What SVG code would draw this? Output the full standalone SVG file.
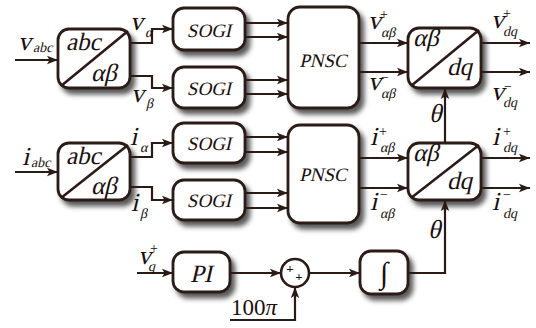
<svg xmlns="http://www.w3.org/2000/svg" width="536" height="328" viewBox="0 0 536 328">
<defs>
<marker id="ar" markerUnits="userSpaceOnUse" markerWidth="12" markerHeight="10" refX="11" refY="5" orient="auto">
<path d="M0,0.8 L11,5 L0,9.2 L2.5,5 Z" fill="#2a1b17"/>
</marker>
<filter id="sh" x="-20%" y="-20%" width="150%" height="150%">
<feDropShadow dx="4" dy="5" stdDeviation="2.8" flood-color="#000" flood-opacity="0.65"/>
</filter>
</defs>
<style>
.blk{fill:#fff;stroke:#2a1b17;stroke-width:2.8;filter:url(#sh)}
.dg{stroke:#2a1b17;stroke-width:2.6;fill:none}
.cn{stroke:#2a1b17;stroke-width:2.2;fill:none;marker-end:url(#ar)}
text{font-family:"Liberation Serif","Times New Roman",serif;fill:#1a1010;font-style:normal}
.bt{font-size:25px}
.sg{font-size:19px;text-anchor:middle}
.v{font-size:26px}
.s{font-size:14px}
.sp{font-size:14px}
</style>
<g id="abc1">
<rect class="blk" x="58" y="29" width="72" height="59" rx="11"/>
<line class="dg" x1="61" y1="86" x2="128" y2="31"/>
<text class="bt" transform="translate(66,50) skewX(-13)">abc</text>
<text class="bt" transform="translate(91,81) skewX(-13)">αβ</text>
</g>
<g id="abc2">
<rect class="blk" x="58" y="143" width="72" height="57" rx="11"/>
<line class="dg" x1="61" y1="198" x2="128" y2="145"/>
<text class="bt" transform="translate(66,164) skewX(-13)">abc</text>
<text class="bt" transform="translate(91,194) skewX(-13)">αβ</text>
</g>
<g id="sogi1"><rect class="blk" x="173" y="8" width="72" height="42" rx="11"/><text class="sg" transform="translate(209,37) skewX(-13)">SOGI</text></g>
<g id="sogi2"><rect class="blk" x="173" y="67" width="72" height="41" rx="11"/><text class="sg" transform="translate(209,95) skewX(-13)">SOGI</text></g>
<g id="sogi3"><rect class="blk" x="173" y="123" width="72" height="40" rx="11"/><text class="sg" transform="translate(209,150) skewX(-13)">SOGI</text></g>
<g id="sogi4"><rect class="blk" x="173" y="180" width="72" height="40" rx="11"/><text class="sg" transform="translate(209,207) skewX(-13)">SOGI</text></g>
<g id="pnsc1"><rect class="blk" x="288" y="7" width="71" height="101" rx="12"/><text class="sg" transform="translate(323,67) skewX(-13)">PNSC</text></g>
<g id="pnsc2"><rect class="blk" x="288" y="125" width="71" height="98" rx="12"/><text class="sg" transform="translate(323,181) skewX(-13)">PNSC</text></g>
<g id="dq1">
<rect class="blk" x="408" y="28" width="73" height="60" rx="11"/>
<line class="dg" x1="411" y1="86" x2="479" y2="30"/>
<text class="bt" transform="translate(413,46) skewX(-13)">αβ</text>
<text class="bt" transform="translate(447,75) skewX(-13)">dq</text>
</g>
<g id="dq2">
<rect class="blk" x="408" y="143" width="73" height="57" rx="11"/>
<line class="dg" x1="411" y1="198" x2="479" y2="145"/>
<text class="bt" transform="translate(413,161) skewX(-13)">αβ</text>
<text class="bt" transform="translate(447,189) skewX(-13)">dq</text>
</g>
<g id="pi"><rect class="blk" x="173" y="252" width="57" height="40" rx="11"/><text class="bt" text-anchor="middle" transform="translate(201,282) skewX(-13)">PI</text></g>
<g id="int"><rect class="blk" x="360" y="251" width="48" height="43" rx="11"/><text x="384" y="283" text-anchor="middle" style="font-size:30px">∫</text></g>
<g id="sum">
<circle cx="295" cy="273" r="14" fill="#fff" stroke="#2a1b17" stroke-width="2.6"/>
<text x="290" y="273" text-anchor="middle" style="font-size:13px;font-weight:bold">+</text>
<text x="299" y="281" text-anchor="middle" style="font-size:13px;font-weight:bold">+</text>
</g>
<g id="connectors">
<path class="cn" d="M15,60 H58"/>
<path class="cn" d="M130,43 H152 V29 H173"/>
<path class="cn" d="M130,76 H152 V88 H173"/>
<path class="cn" d="M245,23 H288"/>
<path class="cn" d="M245,37 H288"/>
<path class="cn" d="M245,80 H288"/>
<path class="cn" d="M245,94 H288"/>
<path class="cn" d="M359,43 H408"/>
<path class="cn" d="M359,72 H408"/>
<path class="cn" d="M481,43 H530"/>
<path class="cn" d="M481,72 H530"/>
<path class="cn" d="M15,172 H58"/>
<path class="cn" d="M130,157 H152 V143 H173"/>
<path class="cn" d="M130,187 H152 V200 H173"/>
<path class="cn" d="M245,137 H288"/>
<path class="cn" d="M245,152 H288"/>
<path class="cn" d="M245,193 H288"/>
<path class="cn" d="M245,208 H288"/>
<path class="cn" d="M359,158 H408"/>
<path class="cn" d="M359,188 H408"/>
<path class="cn" d="M481,158 H530"/>
<path class="cn" d="M481,188 H530"/>
<path class="cn" d="M445,143 V88"/>
<path class="cn" d="M408,273 H445 V200"/>
<path class="cn" d="M137,273 H173"/>
<path class="cn" d="M230,273 H281"/>
<path class="cn" d="M309,273 H360"/>
<path class="cn" d="M230,320 H295 V287"/>
</g>
<g id="labels">
<text class="v" transform="translate(18,50) skewX(-13)">v</text><text class="s" transform="translate(33,52) skewX(-13)">abc</text>
<text class="v" transform="translate(130,30) skewX(-13)">v</text><text class="s" transform="translate(145,37) skewX(-13)">α</text>
<text class="v" transform="translate(131,102) skewX(-13)">v</text><text class="s" transform="translate(146,108) skewX(-13)">β</text>
<text class="v" transform="translate(368,29) skewX(-13)">v</text><text class="sp" x="380" y="19">+</text><text class="s" transform="translate(381,37) skewX(-13)">αβ</text>
<text class="v" transform="translate(368,90) skewX(-13)">v</text><text class="sp" x="381" y="82">−</text><text class="s" transform="translate(381,98) skewX(-13)">αβ</text>
<text class="v" transform="translate(491,28) skewX(-13)">v</text><text class="sp" x="503" y="18">+</text><text class="s" transform="translate(503,36) skewX(-13)">dq</text>
<text class="v" transform="translate(491,100) skewX(-13)">v</text><text class="sp" x="504" y="91">−</text><text class="s" transform="translate(503,107) skewX(-13)">dq</text>
<text class="v" transform="translate(22,165) skewX(-13)">i</text><text class="s" transform="translate(31,167) skewX(-13)">abc</text>
<text class="v" transform="translate(130,145) skewX(-13)">i</text><text class="s" transform="translate(140,152) skewX(-13)">α</text>
<text class="v" transform="translate(131,211) skewX(-13)">i</text><text class="s" transform="translate(140,218) skewX(-13)">β</text>
<text class="v" transform="translate(370,145) skewX(-13)">i</text><text class="sp" x="379" y="136">+</text><text class="s" transform="translate(380,152) skewX(-13)">αβ</text>
<text class="v" transform="translate(370,210) skewX(-13)">i</text><text class="sp" x="380" y="199">−</text><text class="s" transform="translate(380,218) skewX(-13)">αβ</text>
<text class="v" transform="translate(492,145) skewX(-13)">i</text><text class="sp" x="503" y="136">+</text><text class="s" transform="translate(503,152) skewX(-13)">dq</text>
<text class="v" transform="translate(492,210) skewX(-13)">i</text><text class="sp" x="503" y="199">−</text><text class="s" transform="translate(503,218) skewX(-13)">dq</text>
<text class="v" transform="translate(429,122) skewX(-13)">θ</text>
<text class="v" transform="translate(428,238) skewX(-13)">θ</text>
<text class="v" transform="translate(138,264) skewX(-13)">v</text><text class="sp" x="150" y="253">+</text><text class="s" transform="translate(148,271) skewX(-13)">q</text>
<text x="231" y="315" style="font-size:23px">100<tspan style="font-style:italic">π</tspan></text>
</g>
</svg>
